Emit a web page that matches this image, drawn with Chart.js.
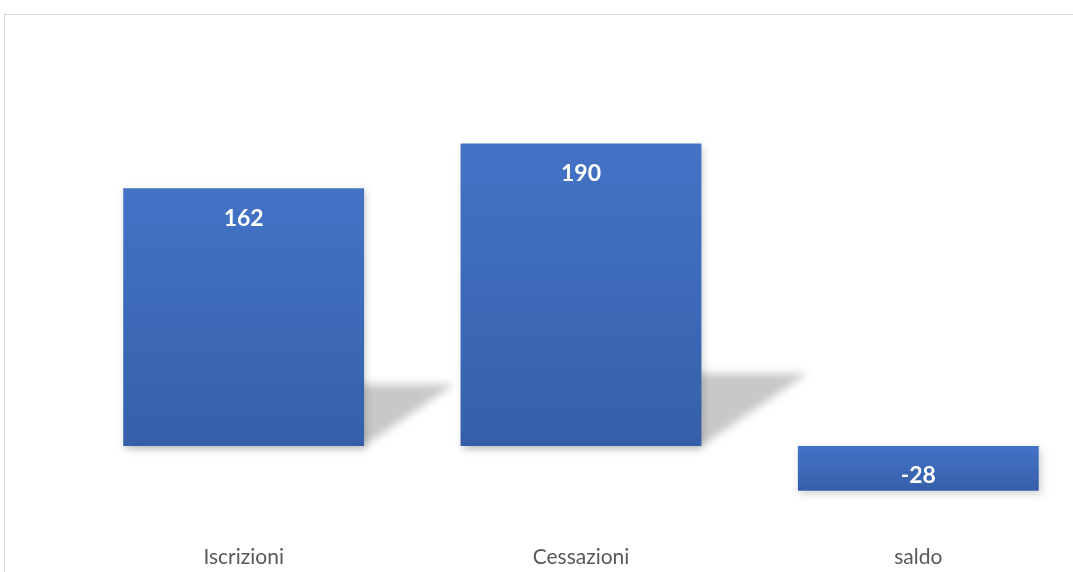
<!DOCTYPE html>
<html>
<head>
<meta charset="utf-8">
<script src="https://cdn.jsdelivr.net/npm/chart.js@4.4.1/dist/chart.umd.min.js"></script>
<style>
  html, body { margin: 0; padding: 0; background: #ffffff; overflow: hidden; width: 1073px; height: 572px; }
  #wrap { position: absolute; left: 4px; top: 14px; width: 1120px; height: 620px; border: 1px solid #d9d9d9; background: #fff; }
  canvas { display: block; }
</style>
</head>
<body>
<div id="wrap"><canvas id="c" width="1120" height="620"></canvas></div>
<script>
const categories = ["Iscrizioni", "Cessazioni", "saldo"];
const values = [162, 190, -28];

const perspectiveShadow = {
  id: 'perspectiveShadow',
  beforeDatasetsDraw(chart) {
    const ctx = chart.ctx;
    const meta = chart.getDatasetMeta(0);
    meta.data.forEach((bar, i) => {
      if (values[i] <= 0) return;
      const half = bar.width / 2;
      const left = bar.x - half, right = bar.x + half;
      const base = bar.base, h = base - bar.y;
      const dy = h * 0.24, dx = h * 0.35;
      ctx.save();
      ctx.filter = 'blur(4px)';
      ctx.fillStyle = 'rgba(190,190,190,0.85)';
      ctx.beginPath();
      ctx.moveTo(left, base);
      ctx.lineTo(right, base);
      ctx.lineTo(right + dx, base - dy);
      ctx.lineTo(left + dx, base - dy);
      ctx.closePath();
      ctx.fill();
      ctx.restore();
    });
  },
  beforeDatasetDraw(chart) {
    const ctx = chart.ctx;
    ctx.save();
    ctx.shadowColor = 'rgba(0,0,0,0.18)';
    ctx.shadowBlur = 8;
    ctx.shadowOffsetX = 2;
    ctx.shadowOffsetY = 3;
  },
  afterDatasetDraw(chart) {
    chart.ctx.restore();
  }
};

const barLabels = {
  id: 'barLabels',
  afterDatasetsDraw(chart) {
    const ctx = chart.ctx;
    const meta = chart.getDatasetMeta(0);
    ctx.save();
    ctx.fillStyle = '#ffffff';
    ctx.font = 'bold 23px Lato';
    ctx.textAlign = 'center';
    ctx.textBaseline = 'middle';
    meta.data.forEach((bar, i) => {
      const v = values[i];
      const y = v >= 0 ? Math.min(bar.y, bar.base) + 30 : Math.max(bar.y, bar.base) - 15;
      ctx.fillText(String(v), bar.x, y);
    });
    ctx.restore();
  }
};

new Chart(document.getElementById('c'), {
  type: 'bar',
  data: {
    labels: categories,
    datasets: [{
      data: values,
      categoryPercentage: 1.0,
      barPercentage: 0.714,
      borderWidth: 0,
      backgroundColor(context) {
        const chart = context.chart;
        const ys = chart.scales.y;
        if (!ys || !chart.chartArea) return '#4472c4';
        const v = context.raw;
        const p1 = ys.getPixelForValue(Math.max(v, 0));
        const p2 = ys.getPixelForValue(Math.min(v, 0));
        if (!isFinite(p1) || !isFinite(p2) || p1 === p2) return '#4472c4';
        const g = chart.ctx.createLinearGradient(0, p1, 0, p2);
        g.addColorStop(0, '#4473c6');
        g.addColorStop(1, '#355fa9');
        return g;
      }
    }]
  },
  options: {
    responsive: false,
    animation: false,
    layout: { padding: { left: 70, right: 38, top: 49, bottom: 0 } },
    plugins: { legend: { display: false }, tooltip: { enabled: false } },
    scales: {
      x: {
        grid: { display: false, drawTicks: false },
        border: { display: false },
        ticks: { color: '#595959', font: { family: 'Lato', size: 21 }, padding: 3 },
        afterFit(scale) { scale.height = 93.4; }
      },
      y: {
        display: false,
        min: -60,
        max: 240
      }
    }
  },
  plugins: [perspectiveShadow, barLabels]
});
</script>
</body>
</html>
